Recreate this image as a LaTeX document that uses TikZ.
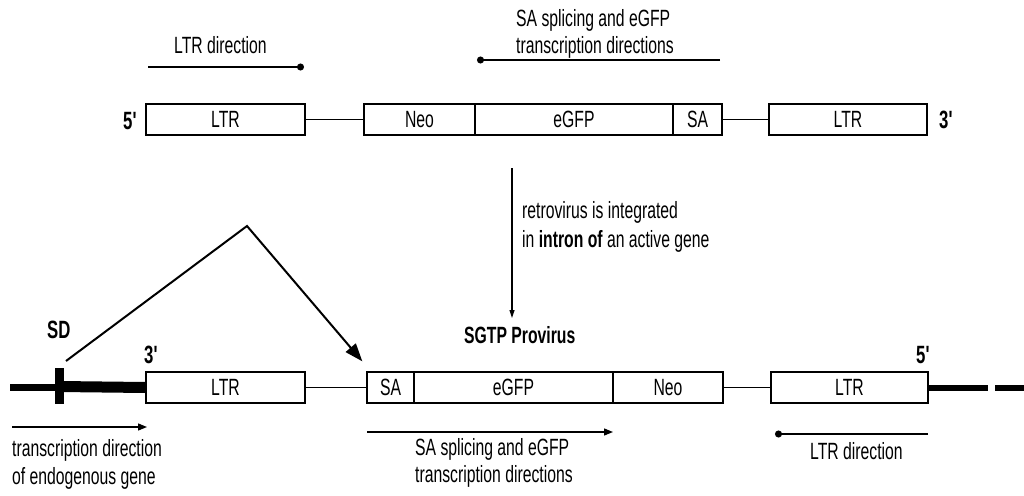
\documentclass[tikz,border=0pt]{standalone}
\usepackage{fontspec}
\setmainfont{Liberation Sans}[FakeStretch=0.67]
\usetikzlibrary{arrows.meta,calc}
\newcommand\dgtext{\fontsize{23.5}{28}\selectfont}
\newcommand\dgend{\fontsize{25}{29}\selectfont\bfseries}
\newcommand\prm{\textquotesingle}

\begin{document}
\begin{tikzpicture}[x=1pt,y=-1pt,
  seg/.style={draw, line width=1.3pt, inner sep=0pt, minimum height=31pt, font=\dgtext},
  link/.style={line width=1.3pt},
  txt/.style={inner sep=0pt, anchor=base west, font=\dgtext},
  endlbl/.style={inner sep=0pt, anchor=base west, font=\dgend},
  dirdot/.style={line width=1.3pt, -{Circle[length=7pt]}},
  dirtri/.style={line width=1.3pt, -{Triangle[length=9pt,width=7pt]}},
  chrom/.style={line width=7pt},
]
\useasboundingbox (0,0) rectangle (1024,495);

% ---------- retroviral vector ----------
\node[seg, minimum width=159pt] (ltrA) at (225.5,119.5) {LTR};
\node[seg, minimum width=111pt] (neoA) at (419.5,119.5) {Neo};
\node[seg, minimum width=198pt] (gfpA) at (574,119.5) {eGFP};
\node[seg, minimum width=49pt]  (saA)  at (697.5,119.5) {SA};
\node[seg, minimum width=158pt] (ltrC) at (848,119.5) {LTR};
\draw[link] (ltrA.east) -- (neoA.west);
\draw[link] (saA.east) -- (ltrC.west);
\node[endlbl] (fiveA) at (123,129) {5\prm};
\node[endlbl] (threeA) at (939,128) {3\prm};

\node[txt] (ltrdirA) at (174,53) {LTR direction};
\coordinate (ltrdirAs) at (148,67);
\coordinate (ltrdirAe) at (304,67);
\draw[dirdot] (ltrdirAs) -- (ltrdirAe);

\node[txt] (sadirA1) at (516,27) {SA splicing and eGFP};
\node[txt] (sadirA2) at (516,53) {transcription directions};
\coordinate (sadirAs) at (720,60);
\coordinate (sadirAe) at (477,60);
\draw[dirdot] (sadirAs) -- (sadirAe);

% ---------- integration step ----------
\coordinate (intS) at (512,168);
\coordinate (intE) at (512,318);
\draw[line width=1.1pt, -{Triangle[length=8pt,width=5pt]}] (intS) -- (intE);
\node[txt] (int1) at (522,218) {retrovirus is integrated};
\node[txt] (int2) at (522,247) {in {\bfseries intron of} an active gene};
\node[txt, font=\dgtext\bfseries] (prov) at (464,343) {SGTP Provirus};

% ---------- provirus in the host gene ----------
\node[seg, minimum width=159pt] (ltrB) at (225.5,387.5) {LTR};
\node[seg, minimum width=47pt]  (saB)  at (390.5,387.5) {SA};
\node[seg, minimum width=199pt] (gfpB) at (513.5,387.5) {eGFP};
\node[seg, minimum width=110pt] (neoB) at (668,387.5) {Neo};
\node[seg, minimum width=157pt] (ltrD) at (849.5,387.5) {LTR};
\draw[link] (ltrB.east) -- (saB.west);
\draw[link] (neoB.east) -- (ltrD.west);

% host chromosome
\coordinate (chrL) at (10,387.5);
\draw[chrom] (chrL) -- (chrL -| ltrB.west);
\draw[line width=11pt] (59.5,386.5) -- (ltrB.west);
\node[fill=black, inner sep=0pt, minimum width=9pt, minimum height=36pt] (sd) at (59.5,386) {};
\coordinate (chrR1) at (988,387.5);
\coordinate (chrR2) at (995,387.5);
\coordinate (chrR3) at (1024,387.5);
\draw[line width=6pt] (ltrD.east) -- (chrR1);
\draw[line width=6pt] (chrR2) -- (chrR3);

\node[endlbl] (sdlbl) at (47,338) {SD};
\node[endlbl] (threeB) at (144,363) {3\prm};
\node[endlbl] (fiveB) at (916,363) {5\prm};

% splicing from SD to SA
\coordinate (spS) at (66,361);
\coordinate (spA) at (247,226);
\coordinate (spE) at ($(saB.north west)+(-4,-10)$);
\draw[line width=2pt, -{Triangle[length=18pt,width=13pt]}] (spS) -- (spA) -- (spE);

% transcription directions
\coordinate (endoS) at (12,427);
\coordinate (endoE) at (147,427);
\draw[dirtri] (endoS) -- (endoE);
\node[txt] (endo1) at (12,456) {transcription direction};
\node[txt] (endo2) at (12,484) {of endogenous gene};

\coordinate (sadirBs) at (367,432);
\coordinate (sadirBe) at (613,432);
\draw[dirtri] (sadirBs) -- (sadirBe);
\node[txt] (sadirB1) at (415,455) {SA splicing and eGFP};
\node[txt] (sadirB2) at (415,482) {transcription directions};

\coordinate (ltrdirBs) at (928,434);
\coordinate (ltrdirBe) at (775,434);
\draw[dirdot] (ltrdirBs) -- (ltrdirBe);
\node[txt] (ltrdirB) at (810,459) {LTR direction};
\end{tikzpicture}
\end{document}
